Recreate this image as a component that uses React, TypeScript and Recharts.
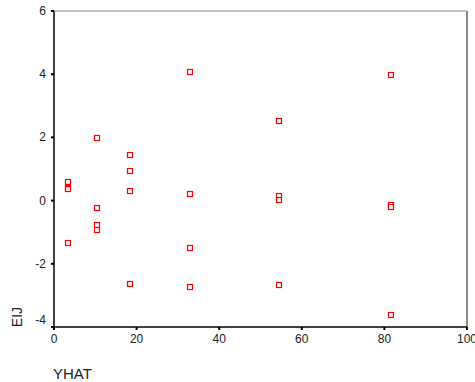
import React from 'react';
import { ScatterChart, Scatter, XAxis, YAxis, ReferenceLine } from 'recharts';

const yhat = [3.4, 3.4, 3.4, 3.4, 10.4, 10.4, 10.4, 10.4, 18.4, 18.4, 18.4, 18.4, 32.9, 32.9, 32.9, 32.9, 54.5, 54.5, 54.5, 54.5, 81.7, 81.7, 81.7, 81.7];
const eij = [0.6, 0.41, 0.36, -1.35, 1.97, -0.22, -0.78, -0.94, 1.43, 0.94, 0.3, -2.64, 4.07, 0.21, -1.51, -2.73, 2.52, 0.15, 0.01, -2.67, 3.97, -0.13, -0.19, -3.63];
const xTicks = [0, 20, 40, 60, 80, 100];
const yTicks = [-4, -2, 0, 2, 4, 6];

const data = yhat.map((x, i) => ({ x, y: eij[i] }));

const FONT = 'Liberation Sans, Arial, sans-serif';

const Square = (props: any) => {
  const { cx, cy } = props;
  return <rect x={Math.round(cx) - 2.5} y={Math.round(cy) - 2.5} width={5} height={5} fill="#fff" stroke="#ff0000" strokeWidth={1.2} />;
};

const YTick = (props: any) => {
  const { x, y, payload } = props;
  const shift = payload.value === -4 ? -7 : 0;
  return (
    <text x={x} y={y + shift} textAnchor="end" dominantBaseline="central" style={{ fontFamily: FONT, fontSize: 12, fill: '#222' }}>
      {payload.value}
    </text>
  );
};

const XTick = (props: any) => {
  const { x, y, payload } = props;
  return (
    <text x={x} y={y} textAnchor="middle" dominantBaseline="hanging" style={{ fontFamily: FONT, fontSize: 12, fill: '#222' }}>
      {payload.value}
    </text>
  );
};

export default function App() {
  return (
    <div style={{ position: 'absolute', left: 0, top: 0, background: '#fff' }}>
      <ScatterChart width={475} height={382} margin={{ top: 11, right: 8, bottom: 25, left: 0 }}>
        <ReferenceLine y={6} stroke="#888" strokeWidth={1} />
        <ReferenceLine x={100} stroke="#888" strokeWidth={2} />
        <XAxis
          type="number"
          dataKey="x"
          domain={[0, 100]}
          ticks={xTicks}
          interval={0}
          height={30}
          tickSize={3}
          tickMargin={4}
          axisLine={{ stroke: '#000', strokeWidth: 1.5 }}
          tickLine={{ stroke: '#000', strokeWidth: 2 }}
          tick={<XTick />}
          allowDataOverflow
        />
        <YAxis
          type="number"
          dataKey="y"
          domain={[-4, 6]}
          ticks={yTicks}
          interval={0}
          width={54}
          tickSize={3}
          tickMargin={5}
          axisLine={{ stroke: '#000', strokeWidth: 1.5 }}
          tickLine={{ stroke: '#000', strokeWidth: 2 }}
          tick={<YTick />}
          allowDataOverflow
        />
        <Scatter data={data} shape={Square} isAnimationActive={false} />
        <text x={17} y={317} transform="rotate(-90 17 317)" textAnchor="middle" dominantBaseline="central" style={{ fontFamily: FONT, fontSize: 14, fill: '#222' }}>EIJ</text>
        <text x={53} y={379} style={{ fontFamily: FONT, fontSize: 15, fill: '#222' }}>YHAT</text>
      </ScatterChart>
    </div>
  );
}
